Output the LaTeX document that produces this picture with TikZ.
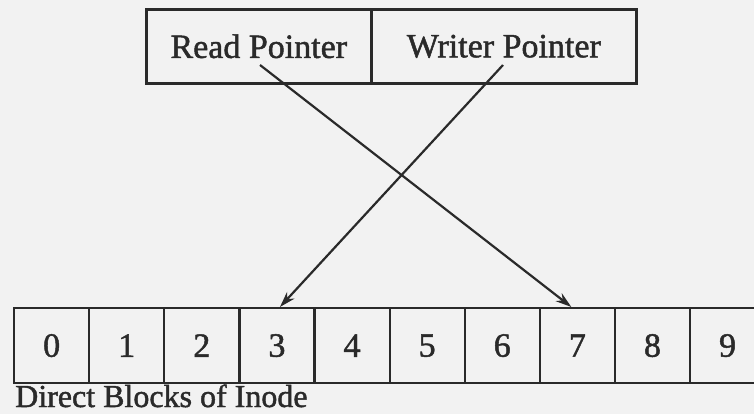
\documentclass[tikz,border=0pt]{standalone}
\usepackage{fontspec}
\setmainfont{Liberation Serif}
\newfontfamily\heavyserif[FakeBold=1.4]{Liberation Serif}
\usetikzlibrary{calc,arrows.meta}
\definecolor{ink}{HTML}{2A2A2A}
\definecolor{paper}{HTML}{F2F2F2}
\begin{document}
\begin{tikzpicture}[x=1pt,y=-1pt,
  ptrcell/.style={draw=ink, line width=2.6pt, inner sep=0pt, minimum height=74pt,
    text=ink, font=\heavyserif\fontsize{34}{40}\selectfont, anchor=north west},
  blockcell/.style={draw=ink, line width=2.2pt, inner sep=0pt, minimum width=75.1pt,
    minimum height=75pt, text=ink, font=\heavyserif\fontsize{34}{40}\selectfont, anchor=north west},
  ptrarrow/.style={draw=ink, line width=2.2pt, -{Stealth[length=16pt,width=10pt]}}]
\fill[paper] (0,0) rectangle (754,414);
\useasboundingbox (0,0) rectangle (754,414);
% pointer box
\node[ptrcell, minimum width=225pt] (rp) at (145,8) {Read Pointer};
\node[ptrcell, minimum width=265pt] (wp) at (370,8) {Writer Pointer};
% direct blocks
\foreach \i in {0,...,9} {
  \node[blockcell] (c\i) at ({13+75.1*\i},307) {\i};
}
\node[anchor=base west, inner sep=0pt, text=ink, font=\heavyserif\fontsize{32}{38}\selectfont]
  (lbl) at (15,407) {Direct Blocks of Inode};
% arrow start points
\coordinate (rs) at (260,65);
\coordinate (ws) at (503,65);
\draw[ptrarrow] (rs) -- ($(c7.north)+(-6,0)$);
\draw[ptrarrow] (ws) -- ($(c3.north)+(3,0)$);
\end{tikzpicture}
\end{document}
